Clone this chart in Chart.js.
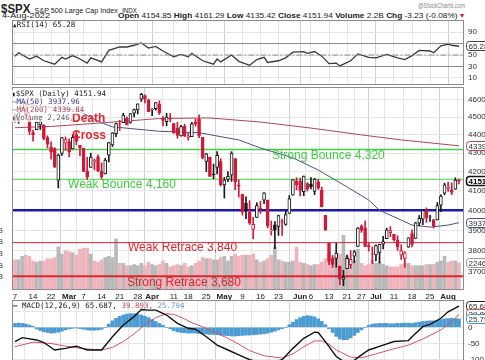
<!DOCTYPE html>
<html>
<head>
<meta charset="utf-8">
<script src="https://cdn.jsdelivr.net/npm/chart.js@4.4.1/dist/chart.umd.min.js"></script>
<style>
  body { margin: 0; width: 485px; height: 360px; overflow: hidden; position: relative; background: #fff; font-family: "Liberation Sans", Arial, sans-serif; color: #222; }
  canvas { position: absolute; left: 0; }
  .t { position: absolute; white-space: nowrap; line-height: 1; transform-origin: 0 0; }
  .lg { position: absolute; white-space: nowrap; font-family: "DejaVu Sans Mono", monospace; font-size: 7.5px; line-height: 8px; z-index: 2; background: rgba(255,255,255,0.75); }
</style>
</head>
<body>
<div id="ttl" class="t" style="left:1px;top:0px"><b style="font-size:12px">$SPX</b> <span style="font-size:7.5px">S&amp;P 500 Large Cap Index</span> <span style="font-size:6.5px">INDX</span></div>
<div id="sc" class="t" style="left:418px;top:3px;font-size:6.5px;color:#888">@StockCharts.com</div>
<div id="dt" class="t" style="left:2px;top:12px;font-size:8px">4-Aug-2022</div>
<div id="ohlc" class="t" style="left:118px;top:12px;font-size:8px"><b>Open</b> 4154.85 <b>High</b> 4161.29 <b>Low</b> 4135.42 <b>Close</b> 4151.94 <b>Volume</b> 2.2B <b>Chg</b> -3.23 (-0.08%) <span style="color:#d11a3a">&#9662;</span></div>

<canvas id="rsi" width="485" height="66" style="top:19px"></canvas>
<canvas id="price" width="485" height="216" style="top:85px"></canvas>
<canvas id="macd" width="485" height="60" style="top:300px"></canvas>

<div class="lg" style="left:13px;top:21px"><span style="font-size:6px">&#9650;</span>RSI(14) 65.28</div>
<div class="lg" style="left:12px;top:90px"><span style="font-size:6px">&#9646;</span>$SPX (Daily) 4151.94</div>
<div class="lg" style="left:12px;top:98px;color:#3b3d8a">&mdash;MA(50) 3937.96</div>
<div class="lg" style="left:12px;top:106px;color:#b0455a">&mdash;MA(200) 4339.84</div>
<div class="lg" style="left:12px;top:114px;color:#666;width:60px;overflow:hidden"><span style="font-size:6px">&#9646;</span>Volume 2,246,500,000</div>
<div class="lg" style="left:13px;top:302px;background:none"><b>&mdash;</b> MACD(12,26,9) 65.687, <span style="color:#d04a55">39.893,</span> <span style="color:#6a9cc4">25.794</span></div>

<script>
// daily candles, 7 Feb 2022 .. 4 Aug 2022 (index 0 = Feb 7)
const open = [4505.8,4480.0,4547.0,4553.2,4506.3,4412.6,4429.3,4455.8,4456.1,4384.6,4332.7,4324.0,4155.8,4298.4,4354.2,
  4363.1,4322.6,4401.3,4342.1,4327.0,4202.7,4223.1,4252.6,4279.5,4202.8,4188.8,4288.1,4345.1,4407.3,4462.4,4469.1,4493.1,4470.0,4522.7,4541.1,4602.9,4624.2,4599.0,
  4540.3,4548.0,4572.5,4494.2,4474.7,4494.2,4462.6,4437.6,4394.3,4449.1,4385.6,4390.6,4472.3,4489.2,4385.8,4255.3,4278.1,4186.5,4222.6,4253.8,
  4130.6,4159.8,4181.2,4270.4,4128.2,4081.3,4035.2,3990.1,3904.0,3963.9,4013.0,4052.0,4052.0,3899.0,3927.8,3919.4,3942.9,3929.6,3984.6,4077.4,4151.1,
  4149.8,4095.4,4137.6,4134.7,4096.5,4147.1,4101.7,3974.4,3838.2,3763.5,3764.1,3728.2,3665.9,3715.3,3733.9,3774.7,3821.8,3920.8,3913.0,3825.1,3786.0,
  3781.0,3792.6,3832.0,3858.9,3888.3,3880.9,3852.0,3779.7,3764.0,3818.0,3883.8,3860.7,3935.3,3955.5,3998.4,3965.7,3953.2,3951.4,4026.1,4087.3,
  4112.4,4104.2,4108.0,4154.85];
const high = [4521.9,4531.3,4590.0,4588.9,4526.3,4426.2,4472.8,4489.6,4456.1,4394.6,4362.1,4329.4,4294.7,4385.3,4388.8,
  4378.5,4401.5,4416.8,4342.1,4327.0,4276.9,4299.4,4268.3,4291.0,4247.6,4271.1,4358.0,4412.7,4465.4,4481.8,4522.0,4501.1,4520.6,4546.0,4575.7,4637.3,4627.8,4603.1,
  4548.7,4583.5,4593.5,4503.9,4521.2,4520.4,4464.4,4471.0,4453.9,4460.5,4410.3,4471.0,4488.3,4512.9,4385.8,4299.0,4278.1,4240.7,4308.5,4269.7,
  4169.8,4200.1,4307.7,4270.4,4157.7,4081.3,4068.8,4049.1,3964.8,4038.9,4046.5,4090.7,4052.0,3946.0,3943.4,3975.5,3955.7,3999.3,4075.1,4158.5,4168.3,
  4166.5,4177.5,4142.7,4168.8,4164.9,4160.1,4119.1,3974.4,3838.2,3778.2,3837.6,3728.2,3707.7,3779.7,3801.8,3802.6,3913.7,3927.7,3945.9,3836.5,3819.0,
  3829.8,3832.2,3870.9,3910.6,3918.5,3880.9,3873.4,3829.4,3796.4,3863.6,3902.4,3939.8,3974.1,3999.3,4012.4,3975.3,3953.2,4039.6,4079.0,4140.2,
  4145.0,4140.5,4167.7,4161.29];
const low = [4471.5,4465.4,4547.0,4484.3,4401.4,4364.8,4429.3,4429.7,4373.8,4327.2,4267.1,4221.5,4114.7,4286.8,4315.1,
  4279.5,4322.6,4345.6,4285.0,4199.9,4157.9,4223.1,4209.8,4200.5,4161.7,4187.9,4252.0,4335.7,4390.6,4424.3,4469.1,4455.8,4465.2,4501.1,4517.7,4589.7,4581.3,4530.4,
  4507.6,4539.2,4514.2,4450.0,4450.3,4474.6,4408.4,4381.3,4392.7,4390.8,4370.3,4390.6,4448.8,4384.5,4267.6,4200.8,4175.0,4162.9,4188.6,4124.3,
  4062.5,4147.1,4148.9,4106.0,4067.9,3975.5,3958.2,3928.8,3858.9,3963.9,3984.0,4033.9,3911.9,3876.6,3810.3,3875.1,3875.1,3925.0,3984.6,4077.4,4104.9,
  4073.9,4074.4,4098.7,4109.2,4080.2,4107.2,4017.2,3900.2,3734.3,3721.6,3722.3,3639.8,3636.9,3715.3,3717.7,3743.5,3821.8,3889.7,3820.1,3799.0,3738.7,
  3752.1,3742.1,3809.4,3858.9,3869.3,3847.2,3802.4,3759.1,3721.6,3817.2,3818.6,3860.7,3922.0,3927.6,3938.9,3944.4,3910.7,3951.4,3993.0,4079.2,
  4096.0,4079.8,4108.0,4135.42];
const close = [4483.9,4521.5,4587.2,4504.1,4418.6,4401.7,4471.1,4475.0,4380.3,4348.9,4304.8,4225.5,4288.7,4384.7,4373.9,
  4306.3,4386.5,4363.5,4328.9,4201.1,4170.7,4277.9,4259.5,4204.3,4173.1,4262.5,4357.9,4411.7,4463.1,4461.2,4511.6,4456.2,4520.2,4543.1,4575.5,4631.6,4602.5,4530.4,
  4545.9,4582.6,4525.1,4481.2,4500.2,4488.3,4412.5,4397.5,4446.6,4392.6,4391.7,4462.2,4459.5,4393.7,4271.8,4296.1,4175.2,4184.0,4287.5,4131.9,
  4155.4,4175.5,4300.2,4146.9,4123.3,3991.2,4001.1,3935.2,3930.1,4023.9,4008.0,4088.9,3923.7,3900.8,3901.4,3973.8,3941.5,3978.7,4057.8,4158.2,4132.2,
  4101.2,4176.8,4108.5,4121.4,4160.7,4115.8,4017.8,3900.9,3749.6,3735.5,3790.0,3666.8,3674.8,3764.8,3759.9,3795.7,3911.7,3900.1,3821.6,3818.8,3785.4,
  3825.3,3831.4,3845.1,3902.6,3899.4,3854.4,3818.8,3801.8,3790.4,3863.2,3830.9,3936.7,3959.9,3999.0,3961.6,3966.8,3921.1,4023.6,4072.4,4130.3,
  4118.6,4091.2,4155.2,4151.94];
// volume in billions
const volume = [2.5,2.5,2.8,2.9,2.8,2.4,2.3,2.4,2.4,2.6,2.6,2.7,3.6,3.0,3.3,
  3.2,3.1,2.9,3.4,3.5,3.5,3.0,2.4,2.3,2.5,2.7,2.8,2.7,4.3,2.2,2.2,2.0,2.0,2.1,2.0,2.2,2.0,2.3,
  2.1,2.0,2.1,2.4,2.2,1.9,2.0,2.1,2.0,2.2,1.9,2.0,2.2,2.4,2.7,2.6,2.6,2.5,2.5,2.7,
  2.8,2.4,2.8,3.0,2.8,2.9,2.9,2.9,3.0,2.5,2.3,2.4,2.6,2.9,3.6,2.5,2.4,2.3,2.3,2.4,3.6,
  2.3,2.2,2.1,2.0,2.1,2.1,2.3,2.6,3.1,2.7,2.8,3.0,4.6,2.8,2.3,2.4,3.4,2.2,2.0,2.1,2.5,
  2.2,2.3,2.1,2.0,1.9,1.9,1.9,2.1,2.2,2.2,2.0,2.0,2.0,2.0,2.1,2.1,2.1,2.3,2.4,2.8,
  2.3,2.4,2.4,2.25];

// indicator lines: [day index, value]
const ma50 = [[0,4585],[5,4570],[10,4555],[17,4541],[24,4467],[27,4445],[40,4420],[51,4412],[62,4372],[68,4328],[77,4274],[84,4209],[92,4120],[98,4052],[101,4000],[107,3951],[110,3926],[115,3916],[120,3926],[123,3937.96]];
const ma200 = [[0,4440],[10,4447],[24,4467],[40,4492],[54,4495],[68,4472],[82,4438],[96,4400],[107,4372],[123,4339.84]];
const rsi = [[0,48],[1,54],[4,43],[6,48],[8,40],[11,34],[13,46],[14,43],[16,49],[18,43],[20,36],[21,45],[24,38],[26,58],[29,64],[31,64],[33,67],[35,71],[37,62],[39,65],[41,57],[44,47],[46,51],[48,47],[49,53],[52,40],[55,34],[56,43],[57,38],[60,50],[62,39],[65,32],[67,42],[69,46],[70,37],[73,40],[75,45],[77,55],[80,56],[81,53],[83,56],[85,48],[87,35],[89,36],[90,31],[93,40],[95,52],[98,46],[100,45],[103,51],[106,45],[108,42],[110,49],[112,58],[115,57],[116,54],[118,66],[120,69],[121,67],[123,65.28]];
const macd = [[0,-44],[2,-32],[6,-39],[8,-47],[11,-70],[14,-65],[17,-58],[20,-70],[24,-70],[27,-29],[30,7],[33,33],[35,55],[37,53],[39,53],[42,38],[45,12],[48,-3],[50,-6],[53,-29],[56,-55],[59,-70],[62,-85],[65,-100],[68,-108],[71,-110],[74,-100],[77,-65],[80,-34],[83,-15],[84,-16],[86,-44],[89,-90],[91,-105],[93,-110],[96,-85],[98,-70],[102,-55],[105,-44],[109,-41],[110,-29],[113,2],[115,9],[118,28],[120,48],[123,65.687]];
const signal = [[0,-60],[5,-46],[10,-50],[14,-58],[19,-66],[24,-70],[27,-62],[30,-44],[33,-20],[36,8],[39,30],[42,42],[44,40],[47,26],[49,14],[52,2],[55,-14],[59,-34],[62,-52],[65,-72],[69,-88],[74,-95],[77,-82],[80,-60],[83,-42],[85,-42],[87,-52],[89,-70],[93,-92],[96,-94],[100,-82],[105,-66],[109,-55],[113,-36],[118,-8],[121,17],[123,39.893]];
const hist = [12,13,12,10,7,3,-5,-10,-14,-16,-18,-17,-15,-12,-8,-5,-3,-2,-4,-6,-8,-9,-9,-8,-6,0,10,20,
  28,34,38,41,42,42,40,38,34,30,24,18,12,6,0,-5,-10,
  -14,-16,-17,-18,-18,-18,-19,-20,-21,-22,-22,-23,-24,-25,-26,-27,-27,-26,-25,-24,
  -24,-23,-22,-21,-20,-18,-15,-12,-8,-4,0,8,16,24,30,34,36,35,32,26,18,8,
  -4,-16,-28,-36,-39,-38,-33,-25,-16,-8,0,6,10,11,12,12,12,11,11,12,12,13,13,12,14,16,
  18,19,20,20,22,24,26,27,28,27,25.8];

const levels = [4320, 4160, 4000, 3840, 3680];
const tickIdx = [0,5,10,15,19,24,29,34,38,44,48,53,58,63,68,73,79,82,87,92,96,100,105,110,115,120];
const tickLabels = ['7','14','22','Mar','7','14','21','28','Apr','11','18','25','May','9','16','23','Jun','6','13','21','27','Jul','11','18','25','Aug'];
const priceTicks = [3700,3800,3900,4000,4100,4200,4300,4400,4500,4600];
const months = ['Mar','Apr','May','Jun','Jul','Aug'];

const xMin = -0.83, xMax = 124.4;
const FONT = '"Liberation Sans", Arial, sans-serif';
Chart.defaults.font.family = FONT;
Chart.defaults.animation = false;

const red = '#d11a3a', black = '#1a1a1a';
const candleCol = close.map((c, i) => (i === 0 ? c < open[0] : c < close[i - 1]) ? red : black);
const bodyFill = close.map((c, i) => c >= open[i] ? '#ffffff' : candleCol[i]);
const volCol = candleCol.map(c => c === red ? '#eeb3bb' : '#b9b9b9');
const pts = a => a.map(p => ({ x: p[0], y: p[1] }));
const flat = v => [{ x: xMin - 1, y: v }, { x: xMax + 1, y: v }];

const frame = {
  id: 'frame',
  afterDraw(c) {
    const a = c.chartArea, g = c.ctx;
    g.save();
    g.strokeStyle = '#8c8c8c';
    g.lineWidth = 1;
    g.strokeRect(Math.round(a.left) + 0.5, Math.round(a.top) + 0.5, Math.round(a.width) - 1, Math.round(a.height));
    g.restore();
  }
};
const notes = {
  id: 'notes',
  afterDatasetsDraw(c, args, o) {
    const g = c.ctx, a = c.chartArea;
    g.save();
    g.beginPath(); g.rect(a.left, a.top, a.width, a.height); g.clip();
    g.textBaseline = 'middle';
    (o.items || []).forEach(n => {
      g.font = (n.bold ? 'bold ' : '') + '12px ' + FONT;
      g.fillStyle = n.color;
      g.fillText(n.text, c.scales.x.getPixelForValue(n.x), c.scales.y.getPixelForValue(n.y));
    });
    g.restore();
  }
};
const markers = {
  id: 'markers',
  afterDraw(c, args, o) {
    const g = c.ctx, x = Math.round(c.chartArea.right) + 2;
    (o.items || []).forEach(m => {
      const y = Math.round(c.scales[m.scale].getPixelForValue(m.value));
      g.save();
      g.beginPath();
      g.roundRect(x + 0.5, y - 4.5, 26, 9, 3);
      g.fillStyle = '#fff';
      g.fill();
      g.lineWidth = m.bold ? 1.5 : 1;
      g.strokeStyle = m.color;
      g.stroke();
      g.font = (m.bold ? 'bold ' : '') + '8px ' + FONT;
      g.fillStyle = m.bold ? '#000' : '#333';
      g.textBaseline = 'middle';
      g.fillText(m.text, x + 2.5, y + 0.5);
      g.restore();
    });
  }
};

function xAxis(h, labels) {
  return {
    type: 'linear', min: xMin, max: xMax, offset: false,
    afterBuildTicks: s => { s.ticks = tickIdx.map(v => ({ value: v })); },
    afterFit: s => { s.height = h; s.paddingLeft = 0; s.paddingRight = 0; },
    grid: { color: ctx => months.includes(tickLabels[ctx.index]) ? '#d0d0d0' : '#e6e6e6', drawTicks: false },
    border: { display: false },
    ticks: {
      display: labels, autoSkip: false, maxRotation: 0, padding: 3, color: '#222',
      callback: (v, i) => tickLabels[i],
      font: ctx => ({ size: 8, weight: months.includes(tickLabels[ctx.index]) ? 'bold' : 'normal' })
    }
  };
}
function yAxis(extra, tickVals, cb) {
  return Object.assign({
    position: 'right',
    afterBuildTicks: s => { s.ticks = tickVals.map(v => ({ value: v })); },
    afterFit: s => { s.width = 21; s.paddingTop = 0; s.paddingBottom = 0; },
    grid: { color: '#e6e6e6', drawTicks: false },
    border: { display: false },
    ticks: { padding: 4, color: '#333', font: { size: 8 }, callback: cb || (v => String(v)) }
  }, extra);
}
const baseOpts = {
  responsive: false,
  animation: false,
  elements: { point: { radius: 0 }, line: { tension: 0 } }
};

// RSI panel
new Chart(document.getElementById('rsi'), {
  type: 'line',
  data: { datasets: [
    { data: flat(70), borderColor: '#8a8a8a', borderWidth: 1 },
    { data: flat(30), borderColor: '#8a8a8a', borderWidth: 1 },
    { data: flat(50), borderColor: '#8a8a8a', borderWidth: 1, borderDash: [6, 2, 2, 2] },
    { data: pts(rsi), borderColor: '#3a3a3a', borderWidth: 1.3 }
  ]},
  options: Object.assign({}, baseOpts, {
    layout: { padding: { top: 1, left: 12, right: 0, bottom: 0 } },
    plugins: { legend: { display: false }, tooltip: { enabled: false },
      markers: { items: [{ scale: 'y', value: 65.28, text: '65.28', color: '#444' }] } },
    scales: { x: xAxis(1, false), y: yAxis({ min: -0.5, max: 111 }, [10, 30, 50, 70, 90]) }
  }),
  plugins: [frame, markers]
});

// price panel
const greenLine = '#46cf46', blueLine = '#1a1ab0', redLine = '#e0252f';
new Chart(document.getElementById('price'), {
  type: 'bar',
  data: { datasets: [
    { type: 'bar', yAxisID: 'yv', grouped: false, order: 9, barThickness: 3,
      data: volume.map((v, i) => ({ x: i, y: v })), backgroundColor: volCol },
    { type: 'line', order: 6, data: flat(levels[0]), borderColor: greenLine, borderWidth: 1.5 },
    { type: 'line', order: 6, data: flat(levels[1]), borderColor: greenLine, borderWidth: 1.2 },
    { type: 'line', order: 6, data: flat(levels[2]), borderColor: blueLine, borderWidth: 2.5 },
    { type: 'line', order: 6, data: flat(levels[3]), borderColor: redLine, borderWidth: 1 },
    { type: 'line', order: 6, data: flat(levels[4]), borderColor: redLine, borderWidth: 2 },
    { type: 'line', order: 5, data: pts(ma200), borderColor: '#b0455a', borderWidth: 1 },
    { type: 'line', order: 5, data: pts(ma50), borderColor: '#4c4f8f', borderWidth: 1 },
    { type: 'bar', order: 3, grouped: false, barThickness: 1,
      data: high.map((h, i) => ({ x: i, y: [low[i], h] })), backgroundColor: candleCol },
    { type: 'bar', order: 2, grouped: false, barThickness: 3, borderWidth: 1, borderSkipped: false,
      data: open.map((o, i) => ({ x: i, y: [o, close[i]] })), backgroundColor: bodyFill, borderColor: candleCol }
  ]},
  options: Object.assign({}, baseOpts, {
    layout: { padding: { top: 2, left: 0, right: 0, bottom: 0 } },
    plugins: { legend: { display: false }, tooltip: { enabled: false },
      notes: { items: [
        { text: 'Death', x: 15.8, y: 4489, color: '#e3262e', bold: true },
        { text: 'Cross', x: 15.8, y: 4394, color: '#e3262e', bold: true },
        { text: 'Strong Bounce 4,320', x: 71.2, y: 4284, color: '#3fcf3f' },
        { text: 'Weak Bounce 4,160', x: 14.7, y: 4130, color: '#3fcf3f' },
        { text: 'Weak Retrace 3,840', x: 31.3, y: 3814, color: '#e3262e' },
        { text: 'Strong Retrace 3,680', x: 31.0, y: 3649, color: '#e3262e' }
      ]},
      markers: { items: [
        { scale: 'y', value: 4339.84, text: '4339', color: '#b0455a' },
        { scale: 'y', value: 4151.94, text: '4151', color: '#111', bold: true },
        { scale: 'y', value: 3937.96, text: '3937', color: '#4c4f8f' },
        { scale: 'yv', value: 2.2465, text: '2246', color: '#999' }
      ]}
    },
    scales: {
      x: xAxis(12, true),
      y: yAxis({ type: 'logarithmic', min: 3621.4, max: 4674.4 }, priceTicks),
      yv: {
        position: 'left', min: 0, max: 17.32,
        afterBuildTicks: s => { s.ticks = [1, 2, 3, 4, 5].map(v => ({ value: v })); },
        afterFit: s => { s.width = 12; s.paddingTop = 0; s.paddingBottom = 0; },
        grid: { display: false }, border: { display: false },
        ticks: { padding: 1, color: '#333', font: { size: 7 }, callback: v => v + 'B' }
      }
    }
  }),
  plugins: [frame, notes, markers]
});

// MACD panel
new Chart(document.getElementById('macd'), {
  type: 'bar',
  data: { datasets: [
    { type: 'bar', order: 3, grouped: false, barThickness: 3,
      data: hist.map((v, i) => ({ x: i, y: v })), backgroundColor: '#4a9bd2', borderWidth: 0 },
    { type: 'line', order: 2, data: pts(signal), borderColor: '#d65560', borderWidth: 1 },
    { type: 'line', order: 1, data: pts(macd), borderColor: '#111', borderWidth: 1.4 }
  ]},
  options: Object.assign({}, baseOpts, {
    layout: { padding: { top: 0, left: 12, right: 0, bottom: 0 } },
    plugins: { legend: { display: false }, tooltip: { enabled: false },
      markers: { items: [
        { scale: 'y', value: 65.687, text: '65.68', color: '#222' },
        { scale: 'y', value: 39.893, text: '39.89', color: '#d65560' },
        { scale: 'y', value: 25.794, text: '25.79', color: '#4196cf' }
      ]}
    },
    scales: {
      x: xAxis(0, false),
      y: yAxis({ min: -100.9, max: 84.3 }, [-100, -75, -50, -25, 0, 25, 50, 75], v => v > 0 ? '' : String(v))
    }
  }),
  plugins: [frame, markers]
});

// squeeze header texts to the widths seen in the reference
function fitWidth(id, w) {
  const e = document.getElementById(id);
  const r = e.getBoundingClientRect().width;
  e.style.transform = 'scaleX(' + (w / r) + ')';
}
fitWidth('ttl', 136);
fitWidth('dt', 48);
fitWidth('ohlc', 346);
fitWidth('sc', 47);
</script>
</body>
</html>
